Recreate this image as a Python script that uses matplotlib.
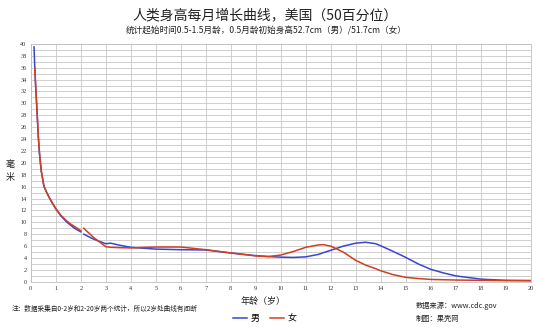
import matplotlib
matplotlib.use("Agg")
import matplotlib.pyplot as plt
from matplotlib.ticker import MultipleLocator

plt.rcParams['font.family'] = ['Noto Sans CJK SC', 'DejaVu Sans']

# ---- data ----
ages_0_2 = [0.13, 0.16, 0.2, 0.24, 0.3, 0.35, 0.42, 0.53, 0.65, 0.76, 0.88, 1.0, 1.2, 1.45, 1.6, 1.75, 2.0]
male_0_2 = [39.5, 36.0, 32.5, 29.5, 24.5, 21.5, 18.6, 16.0, 14.9, 14.0, 13.1, 12.3, 11.1, 10.0, 9.5, 9.0, 8.4]
ages_f_0_2 = [0.16, 0.2, 0.24, 0.3, 0.35, 0.42, 0.53, 0.65, 0.76, 0.88, 1.0, 1.2, 1.45, 1.6, 1.75, 2.0]
female_0_2 = [36.0, 32.5, 29.5, 24.5, 21.5, 18.6, 16.0, 14.9, 14.0, 13.1, 12.3, 11.2, 10.2, 9.7, 9.3, 8.6]

ages_2_20 = [2.12, 2.5, 3, 3.2, 3.5, 4, 5, 6, 7, 8, 9, 9.5, 10, 10.5, 11, 11.5, 11.7, 12, 12.5,
             13, 13.4, 13.8, 14, 14.5, 15, 15.5, 16, 16.5, 17, 18, 19, 20]
male_2_20 = [8.0, 7.2, 6.4, 6.5, 6.2, 5.8, 5.5, 5.4, 5.35, 4.85, 4.4, 4.25, 4.15, 4.1, 4.2, 4.6, 4.9, 5.3, 6.0,
             6.5, 6.65, 6.4, 6.05, 5.1, 4.1, 3.0, 2.1, 1.5, 1.0, 0.45, 0.25, 0.2]
female_2_20 = [9.0, 7.5, 5.9, 5.8, 5.75, 5.7, 5.85, 5.85, 5.4, 4.85, 4.35, 4.25, 4.5, 5.1, 5.8, 6.2, 6.25, 6.0, 5.0,
               3.6, 2.8, 2.2, 1.85, 1.2, 0.75, 0.55, 0.4, 0.35, 0.3, 0.25, 0.2, 0.2]

x_ticks = list(range(0, 21))
y_ticks = list(range(0, 41, 2))

title = "人类身高每月增长曲线，美国（50百分位）"
subtitle = "统计起始时间0.5-1.5月龄，0.5月龄初始身高52.7cm（男）/51.7cm（女）"
xlabel = "年龄（岁）"
ylabel_chars = ["毫", "米"]
note = "注：数据采集自0-2岁和2-20岁两个统计，所以2岁处曲线有间断"
source1 = "数据来源：www.cdc.gov"
source2 = "制图：果壳网"
labels = ["男", "女"]

male_color = "#3846d2"
female_color = "#cf3f22"

fig = plt.figure(figsize=(5.4, 3.3), dpi=100)
ax = fig.add_axes([0.057, 0.146, 0.926, 0.721])

lm, = ax.plot(ages_0_2, male_0_2, color=male_color, lw=1.1)
ax.plot(ages_2_20, male_2_20, color=male_color, lw=1.1)
lf, = ax.plot(ages_f_0_2, female_0_2, color=female_color, lw=1.1)
ax.plot(ages_2_20, female_2_20, color=female_color, lw=1.1)

ax.set_xlim(0, 20)
ax.set_ylim(0, 40)
ax.set_xticks(x_ticks)
ax.set_yticks(y_ticks)
ax.yaxis.set_minor_locator(MultipleLocator(1))
ax.grid(True, which='major', color='#c8c8c8', lw=0.6)
ax.grid(True, which='minor', axis='y', color='#c8c8c8', lw=0.6)
ax.set_axisbelow(True)
for s in ax.spines.values():
    s.set_color('#c0c0c0')
    s.set_linewidth(0.6)
ax.tick_params(which='both', length=0, pad=3)
for lab in ax.get_xticklabels() + ax.get_yticklabels():
    lab.set_fontfamily('Liberation Serif')
    lab.set_fontsize(4.5)
    lab.set_color('#333333')

fig.text(0.49, 0.955, title, ha='center', va='center', fontsize=10, color='#222222')
fig.text(0.492, 0.905, subtitle, ha='center', va='center', fontsize=6.2, color='#222222')
fig.text(0.487, 0.087, xlabel, ha='center', va='center', fontsize=6.5, color='#222222')
fig.text(0.018, 0.503, ylabel_chars[0], ha='center', va='center', fontsize=6.5, color='#222222')
fig.text(0.018, 0.461, ylabel_chars[1], ha='center', va='center', fontsize=6.5, color='#222222')
fig.text(0.022, 0.063, note, ha='left', va='center', fontsize=4.8, color='#222222')
fig.text(0.77, 0.073, source1, ha='left', va='center', fontsize=5.2, color='#222222')
fig.text(0.77, 0.033, source2, ha='left', va='center', fontsize=5.2, color='#222222')

fig.legend([lm, lf], labels, loc='center', bbox_to_anchor=(0.49, 0.035), ncol=2,
           frameon=False, fontsize=6.5, handlelength=1.6, handletextpad=0.3, columnspacing=1.2)

fig.savefig("out.png", dpi=100, facecolor='white')
